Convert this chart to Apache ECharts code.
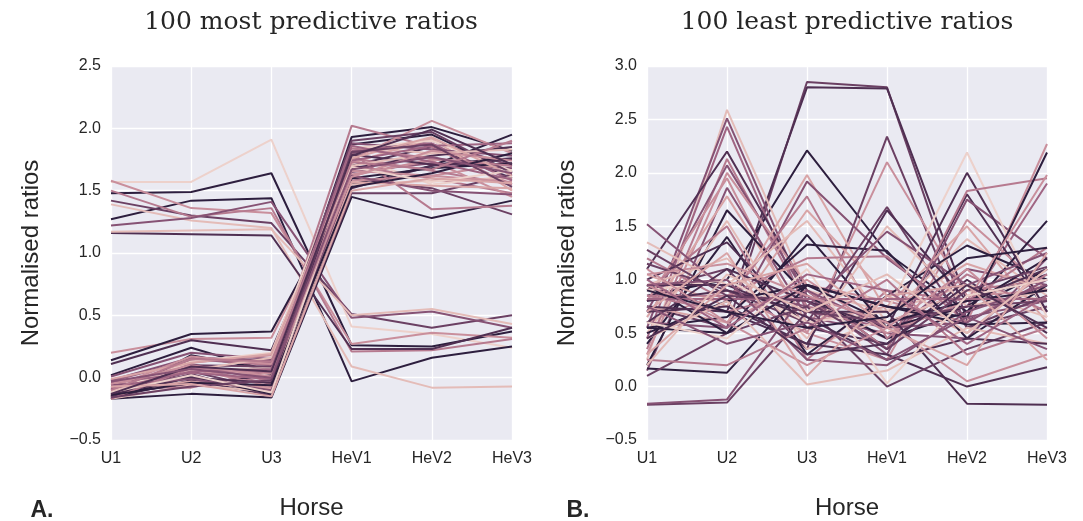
<!DOCTYPE html>
<html>
<head>
<meta charset="utf-8">
<script src="https://cdn.jsdelivr.net/npm/echarts@6/dist/echarts.min.js"></script>
<style>
html,body{margin:0;padding:0;background:#fff;}
#chart{width:1083px;height:521px;}
</style>
</head>
<body>
<div id="chart"></div>
<script>
// Categories (x axis)
const categories = ['U1', 'U2', 'U3', 'HeV1', 'HeV2', 'HeV3'];

// Panel titles / labels
const titleA = '100 most predictive ratios';
const titleB = '100 least predictive ratios';
const yName = 'Normalised ratios';
const xName = 'Horse';

// Palette (seaborn cubehelix, light -> dark)
const palette = ['#edd1cb', '#e4bcb8', '#d9a5a7', '#c98f9c', '#b67a8f',
                 '#a06583', '#865274', '#6b4063', '#4f2f52', '#2d1e3e'];

// Panel A: ratios high in uninfected, low in HeV  [U1,U2,U3,HeV1,HeV2,HeV3]
const mostDown = [
  [1.57, 1.57, 1.91, 0.41, 0.35, 0.24],
  [1.48, 1.49, 1.64, 0.26, 0.25, 0.37],
  [1.27, 1.42, 1.44, -0.03, 0.16, 0.25],
  [1.58, 1.36, 1.32, 0.27, 0.36, 0.32],
  [1.42, 1.30, 1.24, 0.51, 0.40, 0.50],
  [1.50, 1.29, 1.36, 0.21, 0.22, 0.31],
  [1.39, 1.26, 1.20, 0.09, -0.08, -0.07],
  [1.22, 1.28, 1.41, 0.48, 0.53, 0.40],
  [1.16, 1.15, 1.14, 0.23, 0.23, 0.40],
  [1.17, 1.18, 1.19, 0.50, 0.55, 0.43]
];
const mostDownColor = [0, 9, 9, 3, 7, 4, 1, 6, 8, 1];

// Panel A: ratios low in uninfected, high in HeV
const mostUp = [
  [0.20, 0.31, 0.32, 1.62, 1.75, 1.70],
  [0.14, 0.35, 0.37, 1.55, 1.70, 1.95],
  [0.11, 0.30, 0.22, 1.70, 1.85, 1.60],
  [0.02, 0.24, 0.05, 1.93, 2.01, 1.82],
  [0.01, 0.20, 0.15, 1.80, 1.90, 1.70],
  [-0.17, 0.18, 0.06, 1.87, 1.95, 1.65],
  [-0.16, 0.15, 0.10, 2.02, 1.85, 1.55],
  [-0.15, 0.12, 0.18, 1.75, 2.06, 1.80],
  [-0.17, -0.13, -0.16, 1.45, 1.28, 1.42],
  [-0.12, 0.05, -0.10, 1.60, 1.52, 1.31],
  [-0.10, 0.10, 0.00, 1.85, 1.80, 1.75],
  [-0.14, 0.08, -0.05, 1.70, 1.60, 1.48],
  [-0.08, 0.02, -0.12, 1.65, 1.72, 1.68],
  [-0.05, 0.06, 0.08, 1.78, 1.55, 1.62],
  [-0.16, -0.02, -0.14, 1.52, 1.70, 1.75],
  [-0.03, 0.14, 0.12, 1.82, 1.88, 1.58],
  [-0.11, 0.00, -0.08, 1.58, 1.62, 1.72],
  [-0.06, 0.09, 0.03, 1.72, 1.92, 1.50],
  [-0.15, 0.03, -0.15, 1.48, 1.48, 1.63],
  [-0.13, -0.05, 0.02, 1.68, 1.78, 1.85],
  [-0.09, 0.11, -0.03, 1.76, 1.66, 1.55],
  [-0.17, -0.06, -0.11, 1.55, 1.58, 1.60],
  [-0.02, 0.16, 0.14, 1.88, 1.83, 1.78],
  [-0.14, 0.07, -0.07, 1.63, 1.74, 1.45],
  [-0.07, -0.08, 0.06, 1.80, 1.35, 1.38],
  [-0.12, 0.13, 0.20, 1.84, 1.90, 1.66],
  [-0.16, 0.01, -0.13, 1.60, 1.68, 1.72],
  [-0.04, 0.04, -0.01, 1.74, 1.86, 1.88],
  [-0.10, -0.03, -0.09, 1.57, 1.54, 1.52],
  [-0.15, 0.10, 0.09, 1.90, 1.97, 1.64],
  [-0.08, 0.17, 0.11, 1.66, 1.62, 1.57],
  [-0.13, 0.00, -0.04, 1.79, 1.71, 1.76],
  [-0.11, 0.06, 0.16, 1.70, 1.80, 1.83],
  [-0.06, -0.01, -0.10, 1.62, 1.50, 1.47],
  [-0.17, 0.08, 0.04, 1.84, 1.76, 1.70],
  [-0.01, 0.12, 0.19, 1.76, 1.93, 1.62],
  [-0.14, -0.04, -0.06, 1.53, 1.64, 1.80],
  [-0.09, 0.05, 0.07, 1.86, 1.73, 1.59],
  [-0.12, 0.02, -0.12, 1.69, 1.57, 1.66],
  [-0.05, 0.10, 0.01, 1.61, 1.82, 1.74],
  [-0.16, -0.07, -0.02, 1.81, 1.87, 1.53],
  [-0.10, 0.15, 0.13, 1.73, 1.67, 1.90],
  [-0.07, -0.05, -0.15, 1.50, 1.60, 1.56],
  [-0.13, 0.09, 0.05, 1.78, 1.99, 1.71],
  [-0.03, 0.07, 0.00, 1.67, 1.77, 1.64]
];
const mostUpColor = [3, 9, 8, 9, 6, 9, 4, 3, 9, 7, 1, 4, 6, 0, 8, 5, 3, 2, 7, 8,
                     4, 1, 6, 3, 4, 0, 9, 5, 2, 7, 3, 8, 1, 6, 4, 2, 9, 5, 0, 3,
                     7, 4, 2, 8, 6];

// Panel B: least predictive ratios
const least = [
  [0.75, 0.55, 2.85, 2.80, 0.62, 0.95],
  [0.95, 0.70, 2.80, 2.79, 0.80, 1.05],
  [0.85, 1.00, 2.21, 1.25, 0.70, 1.10],
  [0.90, 1.10, 0.35, 2.34, 0.55, 0.75],
  [0.60, 0.90, 0.50, 2.10, 0.85, 0.90],
  [0.25, 2.59, 0.90, 0.70, 0.95, 0.80],
  [0.55, 2.51, 0.80, 0.45, 1.10, 0.95],
  [0.45, 2.43, 0.70, 0.55, 0.75, 1.90],
  [1.10, 2.20, 0.90, 0.35, 1.80, 0.70],
  [0.35, 2.13, 0.75, 0.60, 0.90, 1.00],
  [0.70, 2.07, 0.85, 0.30, 1.75, 1.20],
  [0.30, 2.00, 0.95, 0.80, 0.60, 2.27],
  [0.80, 1.95, 0.50, 0.25, 1.56, 0.90],
  [0.15, 1.86, 0.65, 0.50, 0.45, 1.20],
  [0.65, 1.78, 0.60, 0.75, 1.50, 0.60],
  [0.20, 1.65, 0.85, 0.45, 0.70, 1.55],
  [0.50, 1.55, 0.35, 0.65, 1.38, 0.85],
  [0.90, 1.50, 0.25, 0.90, 0.80, 1.30],
  [0.40, 1.40, 0.30, 0.85, 1.32, 1.00],
  [1.00, 1.35, 0.55, 0.40, 1.00, 0.50],
  [1.05, 0.75, 1.98, 0.70, 1.15, 0.90],
  [0.60, 0.55, 1.92, 1.20, 0.65, 0.80],
  [1.20, 0.80, 1.78, 0.45, 1.05, 0.70],
  [0.75, 0.60, 1.65, 0.85, 0.50, 1.10],
  [1.35, 0.95, 1.55, 0.60, 0.90, 0.65],
  [0.95, 0.50, 1.42, 0.55, 0.75, 1.20],
  [0.55, 0.65, 1.33, 1.27, 0.45, 0.95],
  [0.85, 0.85, 1.20, 1.22, 0.60, 1.05],
  [1.15, 0.90, 0.60, 1.68, 0.55, 0.85],
  [0.70, 0.75, 0.40, 1.65, 0.80, 1.10],
  [0.95, 1.20, 0.45, 1.50, 0.75, 0.90],
  [1.52, 0.90, 0.75, 1.45, 0.95, 1.25],
  [0.90, 1.00, 0.60, 0.70, 2.19, 0.65],
  [0.60, 1.10, 0.80, 0.55, 2.00, 0.70],
  [0.85, 0.70, 0.90, 0.35, 1.83, 1.95],
  [0.50, 0.80, 0.95, 0.75, 0.65, 2.19],
  [0.95, 0.60, 1.00, 0.50, 0.80, 1.98],
  [-0.17, -0.15, 0.70, 0.60, 0.75, 0.80],
  [-0.16, -0.12, 0.90, 0.55, 0.60, 1.00],
  [0.80, 0.90, 0.70, 0.70, -0.16, -0.17],
  [0.75, 0.70, 0.40, 0.30, 0.00, 0.18],
  [0.17, 0.13, 0.95, 0.60, 0.80, 0.90],
  [0.10, 0.50, 0.75, 0.00, 0.35, 0.60],
  [0.45, 0.80, 0.02, 0.15, 0.55, 0.40],
  [0.82, 0.82, 0.82, 0.82, 0.82, 0.82],
  [0.55, 0.50, 0.95, 0.75, 0.58, 0.60],
  [0.95, 0.95, 0.65, 0.25, 0.45, 0.40],
  [1.05, 1.15, 0.85, 0.60, 0.05, 0.30],
  [0.25, 0.20, 0.55, 1.00, 0.30, 0.55],
  [0.95, 1.00, 0.25, 0.20, 0.70, 0.95],
  [1.28, 0.85, 0.80, 0.35, 0.90, 1.12],
  [0.30, 0.95, 1.15, 0.55, 0.20, 1.25],
  [1.10, 0.60, 0.20, 0.55, 1.10, 0.45],
  [0.70, 1.25, 0.10, 0.85, 0.95, 0.25],
  [0.60, 0.45, 1.10, 0.03, 0.85, 1.00],
  [0.90, 0.70, 0.55, 0.65, 1.20, 1.30],
  [1.00, 0.55, 1.05, 0.90, 0.40, 0.85],
  [0.45, 0.85, 0.30, 0.40, 0.95, 0.55],
  [0.20, 1.05, 0.70, 1.05, 0.50, 1.10],
  [0.75, 0.40, 0.60, 0.25, 0.65, 0.35]
];
const leastColor = [7, 8, 9, 7, 3, 1, 6, 5, 8, 4, 6, 3, 3, 6, 2, 9, 1, 4, 9, 8,
                    2, 6, 4, 2, 1, 9, 9, 4, 7, 8, 1, 6, 0, 8, 4, 9, 3, 7, 6, 8,
                    8, 9, 7, 1, 5, 9, 8, 3, 4, 6, 7, 2, 3, 2, 0, 9, 5, 8, 1, 6];

// Y tick settings
const yA = {min: -0.5, max: 2.5, interval: 0.5};
const yB = {min: -0.5, max: 3.0, interval: 0.5};

const chart = echarts.init(document.getElementById('chart'), null, {renderer: 'canvas'});

const sans = '"Liberation Sans", Arial, sans-serif';
const labelColor = '#262626';

function fmt(v) { return v.toFixed(1).replace('-', '\u2212'); }

function makeX(gridIndex) {
  return {
    type: 'category', gridIndex, data: categories, boundaryGap: false,
    axisLine: {show: false}, axisTick: {show: false},
    axisLabel: {color: labelColor, fontFamily: sans, fontSize: 16, margin: 11},
    splitLine: {show: true, lineStyle: {color: '#ffffff', width: 1.3}},
    name: xName, nameLocation: 'middle', nameGap: 56,
    nameTextStyle: {color: labelColor, fontFamily: sans, fontSize: 24}
  };
}
function makeY(gridIndex, cfg) {
  return {
    type: 'value', gridIndex, min: cfg.min, max: cfg.max, interval: cfg.interval,
    axisLine: {show: false}, axisTick: {show: false},
    axisLabel: {color: labelColor, fontFamily: sans, fontSize: 16, margin: 10, formatter: fmt},
    splitLine: {show: true, lineStyle: {color: '#ffffff', width: 1.3}},
    name: yName, nameLocation: 'middle', nameGap: 68,
    nameTextStyle: {color: labelColor, fontFamily: sans, fontSize: 24}
  };
}

const series = [];
function addLines(rows, colors, axisIndex) {
  rows.forEach((row, i) => {
    series.push({
      type: 'line', xAxisIndex: axisIndex, yAxisIndex: axisIndex,
      data: row, symbol: 'none', silent: true, animation: false,
      lineStyle: {color: palette[colors[i]], width: 2}
    });
  });
}
addLines(mostDown, mostDownColor, 0);
addLines(mostUp, mostUpColor, 0);
addLines(least, leastColor, 1);

chart.setOption({
  animation: false,
  backgroundColor: '#ffffff',
  grid: [
    {left: 111, top: 66, width: 401, height: 374, show: true, backgroundColor: '#eaeaf2', borderWidth: 0,
     containLabel: false, outerBoundsMode: 'none'},
    {left: 647, top: 66, width: 400, height: 374, show: true, backgroundColor: '#eaeaf2', borderWidth: 0,
     containLabel: false, outerBoundsMode: 'none'}
  ],
  xAxis: [makeX(0), makeX(1)],
  yAxis: [makeY(0, yA), makeY(1, yB)],
  series,
  graphic: [
    {type: 'text', x: 311, y: 22, style: {text: titleA, textAlign: 'center', textVerticalAlign: 'middle',
      font: '25px "DejaVu Serif", serif', fill: labelColor}},
    {type: 'text', x: 847, y: 22, style: {text: titleB, textAlign: 'center', textVerticalAlign: 'middle',
      font: '25px "DejaVu Serif", serif', fill: labelColor}},
    {type: 'text', x: 42, y: 511, style: {text: 'A.', textAlign: 'center', textVerticalAlign: 'middle',
      font: 'bold 23px "Liberation Sans", Arial, sans-serif', fill: labelColor}},
    {type: 'text', x: 578, y: 511, style: {text: 'B.', textAlign: 'center', textVerticalAlign: 'middle',
      font: 'bold 23px "Liberation Sans", Arial, sans-serif', fill: labelColor}}
  ]
});
</script>
</body>
</html>
